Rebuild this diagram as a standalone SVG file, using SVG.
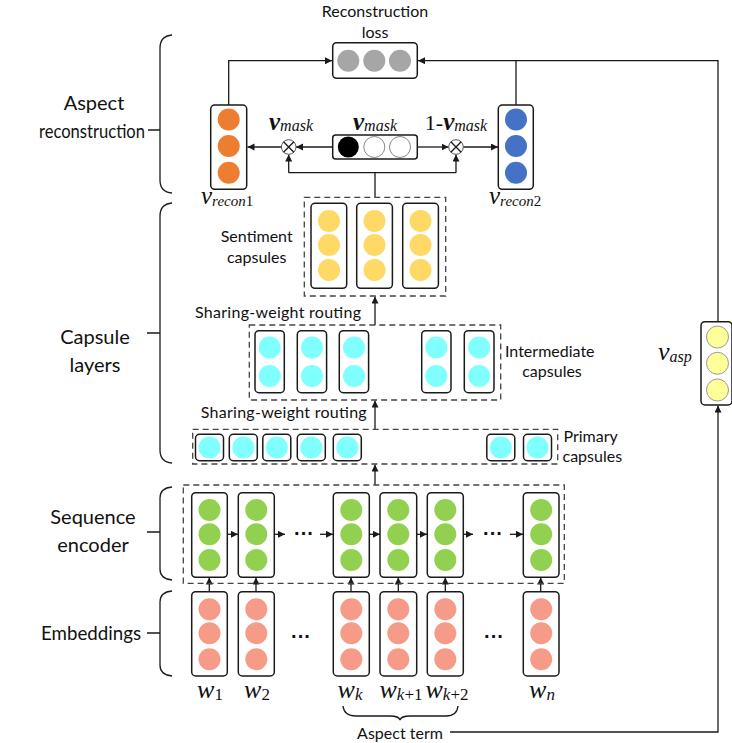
<svg xmlns="http://www.w3.org/2000/svg" width="732" height="743" viewBox="0 0 732 743">
<style>
  .lbl { font-family: Lato, "Open Sans", "Liberation Sans", sans-serif; fill: #111; }
  .big { font-size: 20px; }
  .mid { font-size: 16px; }
  .math { font-family: "Liberation Serif", "DejaVu Serif", serif; font-style: italic; fill: #111; }
  .box { fill: #fff; stroke: #1a1a1a; stroke-width: 1.5; }
  .dash { fill: none; stroke: #444; stroke-width: 1.3; stroke-dasharray: 6 4; }
  .ln { fill: none; stroke: #1a1a1a; stroke-width: 1.3; }
  .arr { fill: none; stroke: #1a1a1a; stroke-width: 1.3; marker-end: url(#ah); }
  .brace { fill: none; stroke: #1a1a1a; stroke-width: 1.3; }
  .orange { fill: #ED7D31; }
  .blue { fill: #4472C4; }
  .gray { fill: #A6A6A6; }
  .yel { fill: #FFD966; }
  .cyan { fill: #80FFFF; }
  .green { fill: #92D050; }
  .salmon { fill: #F69B87; }
  .pale { fill: #FFFF99; stroke: #999; stroke-width: 1; }
  .wc { fill: #fff; stroke: #888; stroke-width: 1; }
  .blk { fill: #000; }
  .ot { fill: #fff; stroke: #555; stroke-width: 1; }
  .dots { font-family: "Liberation Sans", sans-serif; font-size: 20px; font-weight: bold; fill: #111; }
</style>
<defs>
  <marker id="ah" markerUnits="userSpaceOnUse" markerWidth="8" markerHeight="8" refX="7" refY="3.5" orient="auto">
    <path d="M0,0 L7,3.5 L0,7 z" fill="#1a1a1a"/>
  </marker>
</defs>

<!-- Left braces and labels -->
<g id="braces">
  <path class="brace" d="M172,35 Q160,36 160,48 L160,180 Q160,192 172,193 M148,130 H160"/>
  <path class="brace" d="M172,203 Q160,204 160,216 L160,450 Q160,462 172,463 M147,333 H160"/>
  <path class="brace" d="M172,487 Q160,488 160,498 L160,569 Q160,579 172,580 M147,532 H160"/>
  <path class="brace" d="M172,591 Q160,592 160,602 L160,665 Q160,675 172,676 M147,633 H160"/>
</g>
<g id="label-aspect-recon" class="lbl big" text-anchor="middle">
  <text x="94" y="110">Aspect</text>
  <text x="92" y="138" textLength="106" lengthAdjust="spacingAndGlyphs">reconstruction</text>
</g>
<g id="label-capsule-layers" class="lbl big" text-anchor="middle">
  <text x="95" y="344">Capsule</text>
  <text x="95" y="372">layers</text>
</g>
<g id="label-seq-encoder" class="lbl big" text-anchor="middle">
  <text x="93" y="524">Sequence</text>
  <text x="93" y="552">encoder</text>
</g>
<g id="label-embeddings" class="lbl big" text-anchor="middle">
  <text x="91" y="640" textLength="100" lengthAdjust="spacingAndGlyphs">Embeddings</text>
</g>

<!-- Connectors -->
<g id="connectors">
  <path class="arr" d="M228.7,105 V60.7 H332"/>
  <path class="arr" d="M718,321.7 V60.7 H418"/>
  <path class="ln" d="M516,105 V60.7"/>
  <path class="arr" d="M332.7,147 H296"/>
  <path class="arr" d="M281.4,147 H247.5"/>
  <path class="arr" d="M417.3,147 H448.5"/>
  <path class="arr" d="M463.3,147 H498"/>
  <path class="ln" d="M375,197.3 V172.7 M288.7,172.7 H456"/>
  <path class="arr" d="M288.7,172.7 V154.5"/>
  <path class="arr" d="M456,172.7 V154.5"/>
  <path class="arr" d="M375,325 V296.5"/>
  <path class="arr" d="M375,429.3 V400.5"/>
  <path class="arr" d="M375,485 V464.5"/>
  <path class="arr" d="M227.3,534.3 H238"/>
  <path class="arr" d="M274.3,534.3 H285"/>
  <path class="arr" d="M320,534.3 H333"/>
  <path class="arr" d="M369.3,534.3 H380"/>
  <path class="arr" d="M416.7,534.3 H427"/>
  <path class="arr" d="M463.3,534.3 H473"/>
  <path class="arr" d="M510,534.3 H523"/>
  <path class="arr" d="M209.3,591.7 V577.5"/>
  <path class="arr" d="M256,591.7 V577.5"/>
  <path class="arr" d="M351,591.7 V577.5"/>
  <path class="arr" d="M398.3,591.7 V577.5"/>
  <path class="arr" d="M445.3,591.7 V577.5"/>
  <path class="arr" d="M540.7,591.7 V577.5"/>
  <path class="arr" d="M450,732 H718 V405.5"/>
  <path class="ln" d="M343,706 Q344,716 356,716 L390,716 Q399,716 400,720 Q401,716 410,716 L446,716 Q457,716 458,706" stroke-width="1"/>
</g>

<!-- Reconstruction loss -->
<g id="recon-loss">
  <text class="lbl mid" x="375" y="17" text-anchor="middle">Reconstruction</text>
  <text class="lbl mid" x="375" y="38" text-anchor="middle">loss</text>
  <rect class="box" x="332.7" y="42.7" width="84.6" height="35.6" rx="4"/>
  <circle class="gray" cx="348.3" cy="60.7" r="11"/>
  <circle class="gray" cx="374.3" cy="60.7" r="11"/>
  <circle class="gray" cx="400" cy="60.7" r="11"/>
</g>

<!-- v_recon1 -->
<g id="v-recon1">
  <rect class="box" x="210.7" y="105" width="36" height="84.3" rx="4"/>
  <circle class="orange" cx="228.7" cy="119.5" r="11"/>
  <circle class="orange" cx="228.7" cy="146" r="11"/>
  <circle class="orange" cx="228.7" cy="172.7" r="11"/>
  <text class="math" x="201" y="204"><tspan font-size="25">v</tspan><tspan font-size="15" dy="2">recon</tspan><tspan font-size="15" font-style="normal">1</tspan></text>
</g>

<!-- v_recon2 -->
<g id="v-recon2">
  <rect class="box" x="498.3" y="105" width="35" height="84.3" rx="4"/>
  <circle class="blue" cx="516" cy="119.5" r="11"/>
  <circle class="blue" cx="516" cy="146" r="11"/>
  <circle class="blue" cx="516" cy="172.7" r="11"/>
  <text class="math" x="489" y="204"><tspan font-size="25">v</tspan><tspan font-size="15" dy="2">recon</tspan><tspan font-size="15" font-style="normal">2</tspan></text>
</g>

<!-- v_mask -->
<g id="v-mask">
  <rect class="box" x="332.7" y="135" width="84.6" height="24" rx="3"/>
  <circle class="blk" cx="348.3" cy="147" r="10.5"/>
  <circle class="wc" cx="374.3" cy="147" r="10.5"/>
  <circle class="wc" cx="400" cy="147" r="10.5"/>
  <text class="math" x="375" y="130" text-anchor="middle"><tspan font-size="25" font-weight="bold">v</tspan><tspan font-size="16" dy="1">mask</tspan></text>
</g>

<!-- multiply nodes -->
<g id="mul-left">
  <circle class="ot" cx="288.7" cy="147" r="7.3"/>
  <path class="ln" stroke-width="1" d="M283.5,141.8 L293.9,152.2 M293.9,141.8 L283.5,152.2"/>
  <text class="math" x="291" y="130" text-anchor="middle"><tspan font-size="25" font-weight="bold">v</tspan><tspan font-size="16" dy="1">mask</tspan></text>
</g>
<g id="mul-right">
  <circle class="ot" cx="456" cy="147" r="7.3"/>
  <path class="ln" stroke-width="1" d="M450.8,141.8 L461.2,152.2 M461.2,141.8 L450.8,152.2"/>
  <text class="math" x="456" y="130" text-anchor="middle"><tspan font-size="22" font-style="normal">1-</tspan><tspan font-size="25" font-weight="bold">v</tspan><tspan font-size="16" dy="1">mask</tspan></text>
</g>

<!-- Sentiment capsules -->
<g id="sentiment-capsules">
  <rect class="dash" x="304.3" y="197.3" width="141.4" height="98.7"/>
  <rect class="box" x="311" y="203.3" width="35.7" height="85" rx="4"/>
  <rect class="box" x="356.7" y="203.3" width="35.7" height="85" rx="4"/>
  <rect class="box" x="402.7" y="203.3" width="35.7" height="85" rx="4"/>
  <circle class="yel" cx="329" cy="221" r="11"/>
  <circle class="yel" cx="329" cy="245" r="11"/>
  <circle class="yel" cx="329" cy="270" r="11"/>
  <circle class="yel" cx="374.5" cy="221" r="11"/>
  <circle class="yel" cx="374.5" cy="245" r="11"/>
  <circle class="yel" cx="374.5" cy="270" r="11"/>
  <circle class="yel" cx="420.5" cy="221" r="11"/>
  <circle class="yel" cx="420.5" cy="245" r="11"/>
  <circle class="yel" cx="420.5" cy="270" r="11"/>
  <text class="lbl mid" x="256.7" y="242" text-anchor="middle">Sentiment</text>
  <text class="lbl mid" x="256.7" y="263" text-anchor="middle">capsules</text>
</g>

<text id="routing-1" class="lbl mid" x="195" y="318" textLength="166" lengthAdjust="spacing">Sharing-weight routing</text>

<!-- Intermediate capsules -->
<g id="intermediate-capsules">
  <rect class="dash" x="249.3" y="325" width="251.4" height="75"/>
  <rect class="box" x="255" y="330.7" width="29.3" height="62" rx="4"/>
  <rect class="box" x="297.3" y="330.7" width="29.3" height="62" rx="4"/>
  <rect class="box" x="339.3" y="330.7" width="29.3" height="62" rx="4"/>
  <rect class="box" x="421.7" y="330.7" width="29.3" height="62" rx="4"/>
  <rect class="box" x="464.3" y="330.7" width="29.7" height="62" rx="4"/>
  <circle class="cyan" cx="269.7" cy="347.5" r="11"/>
  <circle class="cyan" cx="269.7" cy="376" r="11"/>
  <circle class="cyan" cx="312" cy="347.5" r="11"/>
  <circle class="cyan" cx="312" cy="376" r="11"/>
  <circle class="cyan" cx="354" cy="347.5" r="11"/>
  <circle class="cyan" cx="354" cy="376" r="11"/>
  <circle class="cyan" cx="436.3" cy="347.5" r="11"/>
  <circle class="cyan" cx="436.3" cy="376" r="11"/>
  <circle class="cyan" cx="479.2" cy="347.5" r="11"/>
  <circle class="cyan" cx="479.2" cy="376" r="11"/>
  <text class="lbl mid" x="505" y="357">Intermediate</text>
  <text class="lbl mid" x="552" y="377" text-anchor="middle">capsules</text>
</g>

<text id="routing-2" class="lbl mid" x="200.7" y="418" textLength="166" lengthAdjust="spacing">Sharing-weight routing</text>

<!-- Primary capsules -->
<g id="primary-capsules">
  <rect class="dash" x="192.7" y="429.3" width="365" height="34.7"/>
  <rect class="box" x="195.5" y="434.3" width="28" height="26.4" rx="4"/>
  <rect class="box" x="229.3" y="434.3" width="28" height="26.4" rx="4"/>
  <rect class="box" x="262.8" y="434.3" width="28" height="26.4" rx="4"/>
  <rect class="box" x="297.3" y="434.3" width="28" height="26.4" rx="4"/>
  <rect class="box" x="333.3" y="434.3" width="28" height="26.4" rx="4"/>
  <rect class="box" x="486.8" y="434.3" width="28" height="26.4" rx="4"/>
  <rect class="box" x="523.5" y="434.3" width="28" height="26.4" rx="4"/>
  <circle class="cyan" cx="209.5" cy="447.5" r="11"/>
  <circle class="cyan" cx="243.3" cy="447.5" r="11"/>
  <circle class="cyan" cx="276.8" cy="447.5" r="11"/>
  <circle class="cyan" cx="311.3" cy="447.5" r="11"/>
  <circle class="cyan" cx="347.3" cy="447.5" r="11"/>
  <circle class="cyan" cx="500.8" cy="447.5" r="11"/>
  <circle class="cyan" cx="537.5" cy="447.5" r="11"/>
  <text class="lbl mid" x="563.5" y="442">Primary</text>
  <text class="lbl mid" x="562.5" y="462">capsules</text>
</g>

<!-- Sequence encoder -->
<g id="sequence-encoder">
  <rect class="dash" x="183.3" y="485" width="381" height="98.3"/>
  <rect class="box" x="191.7" y="492.7" width="35.6" height="84.6" rx="4"/>
  <rect class="box" x="238.3" y="492.7" width="36" height="84.6" rx="4"/>
  <rect class="box" x="333.3" y="492.7" width="36" height="84.6" rx="4"/>
  <rect class="box" x="380" y="492.7" width="36.7" height="84.6" rx="4"/>
  <rect class="box" x="427.3" y="492.7" width="36" height="84.6" rx="4"/>
  <rect class="box" x="523.3" y="492.7" width="35.7" height="84.6" rx="4"/>
  <g class="green">
    <circle cx="209.5" cy="510" r="11"/><circle cx="209.5" cy="534.3" r="11"/><circle cx="209.5" cy="560" r="11"/>
    <circle cx="256.3" cy="510" r="11"/><circle cx="256.3" cy="534.3" r="11"/><circle cx="256.3" cy="560" r="11"/>
    <circle cx="351.3" cy="510" r="11"/><circle cx="351.3" cy="534.3" r="11"/><circle cx="351.3" cy="560" r="11"/>
    <circle cx="398.3" cy="510" r="11"/><circle cx="398.3" cy="534.3" r="11"/><circle cx="398.3" cy="560" r="11"/>
    <circle cx="445.3" cy="510" r="11"/><circle cx="445.3" cy="534.3" r="11"/><circle cx="445.3" cy="560" r="11"/>
    <circle cx="541.2" cy="510" r="11"/><circle cx="541.2" cy="534.3" r="11"/><circle cx="541.2" cy="560" r="11"/>
  </g>
  <text class="dots" x="304" y="540" text-anchor="middle">···</text>
  <text class="dots" x="493" y="540" text-anchor="middle">···</text>
</g>

<!-- Embeddings -->
<g id="embeddings">
  <rect class="box" x="191.7" y="591.7" width="35.6" height="84.3" rx="4"/>
  <rect class="box" x="238.3" y="591.7" width="36" height="84.3" rx="4"/>
  <rect class="box" x="333.3" y="591.7" width="36" height="84.3" rx="4"/>
  <rect class="box" x="380" y="591.7" width="36.7" height="84.3" rx="4"/>
  <rect class="box" x="427.3" y="591.7" width="36" height="84.3" rx="4"/>
  <rect class="box" x="523.3" y="591.7" width="35.7" height="84.3" rx="4"/>
  <g class="salmon">
    <circle cx="209.5" cy="609.3" r="11"/><circle cx="209.5" cy="633.3" r="11"/><circle cx="209.5" cy="659.3" r="11"/>
    <circle cx="256.3" cy="609.3" r="11"/><circle cx="256.3" cy="633.3" r="11"/><circle cx="256.3" cy="659.3" r="11"/>
    <circle cx="351.3" cy="609.3" r="11"/><circle cx="351.3" cy="633.3" r="11"/><circle cx="351.3" cy="659.3" r="11"/>
    <circle cx="398.3" cy="609.3" r="11"/><circle cx="398.3" cy="633.3" r="11"/><circle cx="398.3" cy="659.3" r="11"/>
    <circle cx="445.3" cy="609.3" r="11"/><circle cx="445.3" cy="633.3" r="11"/><circle cx="445.3" cy="659.3" r="11"/>
    <circle cx="541.2" cy="609.3" r="11"/><circle cx="541.2" cy="633.3" r="11"/><circle cx="541.2" cy="659.3" r="11"/>
  </g>
  <text class="dots" x="301" y="643" text-anchor="middle">···</text>
  <text class="dots" x="494" y="643" text-anchor="middle">···</text>
</g>

<!-- word labels -->
<g id="word-labels" class="math">
  <text x="210" y="698" text-anchor="middle"><tspan font-size="26">w</tspan><tspan font-size="17" font-style="normal" dy="2">1</tspan></text>
  <text x="257" y="698" text-anchor="middle"><tspan font-size="26">w</tspan><tspan font-size="17" font-style="normal" dy="2">2</tspan></text>
  <text x="350" y="698" text-anchor="middle"><tspan font-size="26">w</tspan><tspan font-size="17" dy="2">k</tspan></text>
  <text x="401" y="698" text-anchor="middle"><tspan font-size="26">w</tspan><tspan font-size="17" dy="2">k</tspan><tspan font-size="17" font-style="normal">+1</tspan></text>
  <text x="447" y="698" text-anchor="middle"><tspan font-size="26">w</tspan><tspan font-size="17" dy="2">k</tspan><tspan font-size="17" font-style="normal">+2</tspan></text>
  <text x="542" y="698" text-anchor="middle"><tspan font-size="26">w</tspan><tspan font-size="17" dy="2">n</tspan></text>
</g>
<text id="aspect-term" class="lbl mid" x="400" y="739" text-anchor="middle">Aspect term</text>

<!-- v_asp -->
<g id="v-asp">
  <rect class="box" x="701" y="321.7" width="31" height="83.3" rx="4"/>
  <circle class="pale" cx="717.5" cy="337" r="11"/>
  <circle class="pale" cx="717.5" cy="363.3" r="11"/>
  <circle class="pale" cx="717.5" cy="390" r="11"/>
  <text class="math" x="658" y="360"><tspan font-size="26">v</tspan><tspan font-size="16" dy="2">asp</tspan></text>
</g>
</svg>
